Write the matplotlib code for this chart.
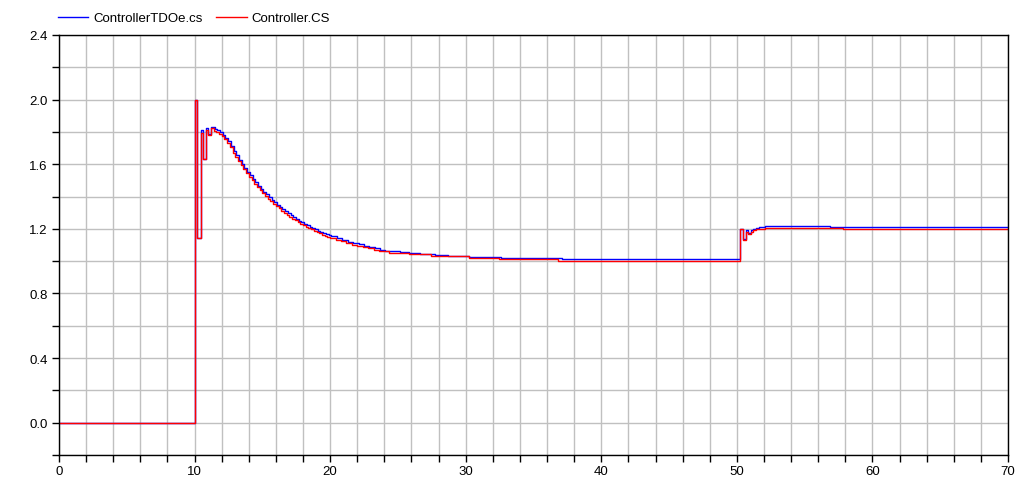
import matplotlib.pyplot as plt
from matplotlib.ticker import MultipleLocator

plt.rcParams['font.family'] = ['Liberation Sans', 'DejaVu Sans']

# step times (s) and held values
t_tdoe = [0.0, 10.0, 10.2, 10.45, 10.65, 10.87, 11.02, 11.24, 11.48,
          11.68, 11.88, 12.08, 12.28, 12.48, 12.68, 12.88, 13.08, 13.28,
          13.48, 13.68, 13.88, 14.08, 14.28, 14.48, 14.68, 14.88, 15.08,
          15.28, 15.48, 15.68, 15.88, 16.08, 16.28, 16.48, 16.68, 16.88,
          17.08, 17.28, 17.48, 17.68, 17.88, 18.08, 18.28, 18.48, 18.68,
          18.88, 19.08, 19.28, 19.48, 19.68, 19.88, 20.1, 20.5, 20.9, 21.3,
          21.7, 22.1, 22.5, 22.9, 23.3, 23.7, 24.05, 25.15, 25.8, 26.6,
          27.7, 28.67, 30.27, 32.58, 37.08, 50.26, 50.48, 50.7, 50.85,
          51.07, 51.21, 51.43, 51.66, 52.1, 56.87, 70.0]
v_tdoe = [0.0, 2.0, 1.142, 1.810, 1.633, 1.825, 1.785, 1.830, 1.817,
          1.809, 1.799, 1.784, 1.764, 1.742, 1.714, 1.681, 1.655, 1.628,
          1.602, 1.577, 1.553, 1.531, 1.509, 1.488, 1.468, 1.449, 1.430,
          1.413, 1.396, 1.380, 1.364, 1.350, 1.335, 1.322, 1.309, 1.296,
          1.284, 1.273, 1.262, 1.251, 1.241, 1.231, 1.222, 1.213, 1.205,
          1.197, 1.189, 1.181, 1.174, 1.167, 1.161, 1.154, 1.142, 1.131,
          1.121, 1.112, 1.104, 1.096, 1.089, 1.080, 1.072, 1.064, 1.056,
          1.050, 1.044, 1.037, 1.031, 1.025, 1.019, 1.013, 1.200, 1.136,
          1.190, 1.177, 1.190, 1.198, 1.206, 1.210, 1.218, 1.212, 1.212]

t_cs = [0.0, 10.0, 10.2, 10.45, 10.65, 10.87, 11.02, 11.24, 11.4, 11.6,
        11.8, 12.0, 12.2, 12.4, 12.6, 12.8, 13.0, 13.2, 13.4, 13.6, 13.8,
        14.0, 14.2, 14.4, 14.6, 14.8, 15.0, 15.2, 15.4, 15.6, 15.8, 16.0,
        16.2, 16.4, 16.6, 16.8, 17.0, 17.2, 17.4, 17.6, 17.8, 18.0, 18.2,
        18.4, 18.6, 18.8, 19.0, 19.2, 19.4, 19.6, 19.8, 20.0, 20.4, 20.8,
        21.2, 21.6, 22.0, 22.4, 22.8, 23.2, 23.6, 24.37, 25.84, 27.44,
        28.67, 30.27, 32.46, 36.83, 50.26, 50.48, 50.7, 50.85, 51.07,
        51.21, 51.43, 51.66, 52.1, 57.85, 70.0]
v_cs = [0.0, 2.0, 1.142, 1.794, 1.633, 1.814, 1.779, 1.825, 1.808, 1.800,
        1.790, 1.775, 1.755, 1.733, 1.705, 1.672, 1.646, 1.619, 1.593,
        1.568, 1.544, 1.522, 1.500, 1.479, 1.459, 1.440, 1.421, 1.404,
        1.387, 1.371, 1.355, 1.341, 1.326, 1.313, 1.300, 1.287, 1.275,
        1.264, 1.253, 1.242, 1.232, 1.222, 1.213, 1.204, 1.196, 1.188,
        1.180, 1.172, 1.165, 1.158, 1.152, 1.145, 1.133, 1.122, 1.112,
        1.103, 1.095, 1.087, 1.080, 1.070, 1.062, 1.051, 1.043, 1.035,
        1.029, 1.021, 1.013, 1.000, 1.196, 1.132, 1.180, 1.171, 1.183,
        1.190, 1.196, 1.200, 1.204, 1.198, 1.198]

fig = plt.figure(figsize=(10.34, 4.81), dpi=100)
ax = fig.add_axes([59 / 1034, 1 - 456 / 481, 949 / 1034, 420 / 481])

ax.plot(t_tdoe, v_tdoe, color='#0000ff', lw=1.0, drawstyle='steps-post', label='ControllerTDOe.cs')
ax.plot(t_cs, v_cs, color='#ff0000', lw=1.0, drawstyle='steps-post', label='Controller.CS')

ax.set_xlim(0, 70)
ax.set_ylim(-0.2, 2.4)
ax.xaxis.set_major_locator(MultipleLocator(10))
ax.xaxis.set_minor_locator(MultipleLocator(2))
ax.yaxis.set_major_locator(MultipleLocator(0.4))
ax.yaxis.set_minor_locator(MultipleLocator(0.2))
ax.yaxis.set_major_formatter(plt.FuncFormatter(lambda v, p: '%.1f' % v))

ax.grid(True, which='both', color='#c0c0c0', lw=1.0)
ax.set_axisbelow(True)
ax.tick_params(which='both', direction='out', length=5, width=1, labelsize=9.5,
               top=False, right=False, color='black')
ax.tick_params(axis='y', pad=3)
ax.tick_params(axis='x', pad=2)
for s in ax.spines.values():
    s.set_color('black')
    s.set_linewidth(1.0)

fig.legend(loc='center left', bbox_to_anchor=(58 / 1034, 1 - 19 / 481), ncol=2,
           frameon=False, fontsize=9.5, handlelength=2.3, handletextpad=0.4,
           columnspacing=1.0, borderpad=0, borderaxespad=0)

fig.savefig('out.png', dpi=100)
